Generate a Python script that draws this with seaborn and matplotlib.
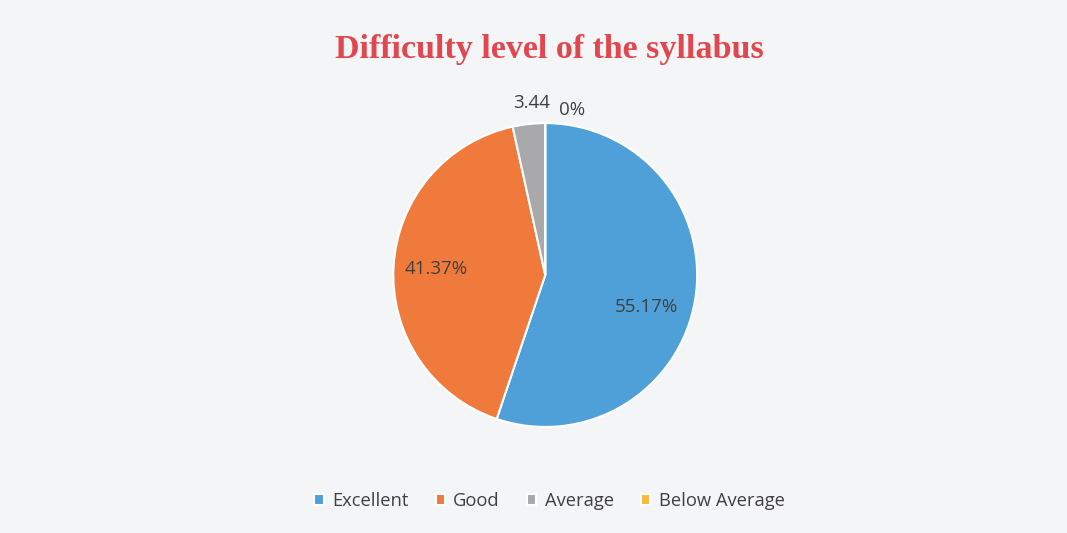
import numpy as np
import matplotlib.pyplot as plt
import seaborn as sns

categories = ["Excellent", "Good", "Average", "Below Average"]
values = [55.17, 41.37, 3.44, 0.0]
value_labels = ["55.17%", "41.37%", "3.44", "0%"]

sns.set_theme(style="white")
plt.rcParams["font.family"] = ["Open Sans", "DejaVu Sans"]

palette = sns.color_palette(["#4fa0d8", "#ef7a3b", "#a9a9ab", "#f9b93a"])
bg = "#f4f5f7"

fig = plt.figure(figsize=(10.67, 5.33), dpi=100, facecolor=bg)
ax = fig.add_axes([0.511 - 0.1425, 0.484 - 0.285, 0.285, 0.570])
ax.set_facecolor(bg)

wedges, _ = ax.pie(values, colors=palette, startangle=90, counterclock=False,
                   radius=1.0, wedgeprops=dict(edgecolor="white", linewidth=1.5))
ax.set_xlim(-1, 1)
ax.set_ylim(-1, 1)

# label placement: distance from centre and small angular shift per slice
label_r = [0.70, 0.72, 1.135, 1.10]
label_shift = [-8, 0, -1.6, -9.3]
for w, txt, r, s in zip(wedges, value_labels, label_r, label_shift):
    ang = np.deg2rad((w.theta1 + w.theta2) / 2 + s)
    ax.text(r * np.cos(ang), r * np.sin(ang), txt, ha="center", va="center",
            fontsize=13.5, color="#404040", clip_on=False)

fig.text(0.515, 0.907, "Difficulty level of the syllabus", ha="center", va="center",
         fontsize=24.5, fontweight="bold", color="#e0474f", family="Liberation Serif")

fig.legend(wedges, categories, loc="center", bbox_to_anchor=(0.515, 0.06), ncol=4,
           frameon=False, fontsize=13.2, handlelength=0.5, handleheight=0.5,
           handletextpad=0.45, columnspacing=1.5, labelcolor="#404040")

fig.savefig("out.png", dpi=100, facecolor=bg)
